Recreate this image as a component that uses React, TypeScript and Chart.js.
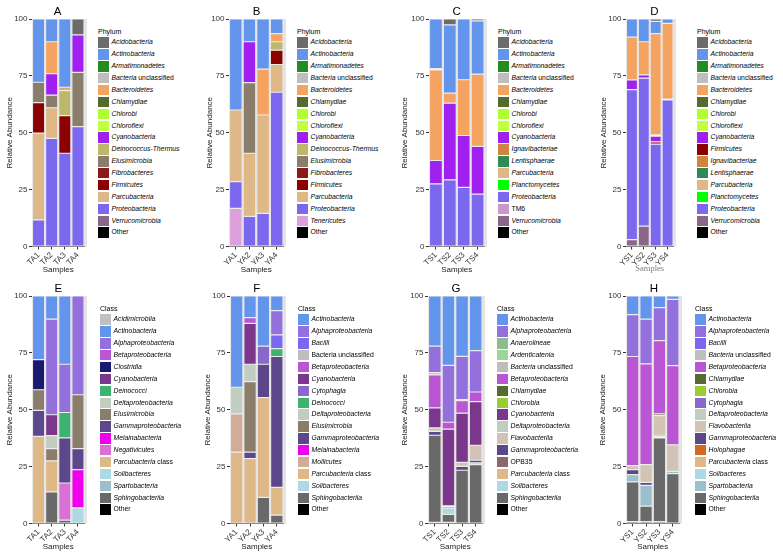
import React, { useEffect, useRef } from "react";
import { Chart, registerables } from "chart.js";

Chart.register(...registerables);
Chart.defaults.font.family = "'Liberation Sans', Arial, sans-serif";

// ---------------- Data ----------------
const samplesTA = ["TA1", "TA2", "TA3", "TA4"];
const samplesYA = ["YA1", "YA2", "YA3", "YA4"];
const samplesTS = ["TS1", "TS2", "TS3", "TS4"];
const samplesYS = ["YS1", "YS2", "YS3", "YS4"];

// Panel A (Phylum) – legend order
const taxaA = ["Acidobacteria", "Actinobacteria", "Armatimonadetes", "Bacteria unclassified", "Bacteroidetes", "Chlamydiae", "Chlorobi", "Chloroflexi", "Cyanobacteria", "Deinococcus-Thermus", "Elusimicrobia", "Fibrobacteres", "Firmicutes", "Parcubacteria", "Proteobacteria", "Verrucomicrobia", "Other"];
const valuesA = [
  [0, 0, 0, 7], [27.8, 10, 30, 0], [0, 0, 0, 0], [0, 0, 0, 0], [0, 14, 1.5, 0], [0, 0, 0, 0], [0, 0, 0, 0], [0, 0, 0, 0],
  [0, 9.5, 0, 16.5], [0, 0, 11, 0], [9, 5.5, 0, 23.8], [0, 0, 0, 0], [13.4, 0, 16.5, 0], [38.1, 13.5, 0, 0],
  [11.7, 47.5, 41, 52.7], [0, 0, 0, 0], [0, 0, 0, 0],
];

// Panel B (Phylum)
const taxaB = ["Acidobacteria", "Actinobacteria", "Armatimonadetes", "Bacteria unclassified", "Bacteroidetes", "Chlamydiae", "Chlorobi", "Chloroflexi", "Cyanobacteria", "Deinococcus-Thermus", "Elusimicrobia", "Fibrobacteres", "Firmicutes", "Parcubacteria", "Proteobacteria", "Tenericutes", "Other"];
const valuesB = [
  [0, 0, 0, 0], [40, 10, 22, 6.4], [0, 0, 0, 0], [0, 0, 0, 0], [0, 0, 20.2, 3.6], [0, 0, 0, 0], [0, 0, 0, 0], [0, 0, 0, 0],
  [0, 18, 0, 0], [0, 0, 0, 3.7], [0, 31, 0, 0], [0, 0, 0, 0], [0, 0, 0, 6.3], [31.5, 27.8, 43.2, 12.2],
  [11.7, 13.2, 14.6, 67.8], [16.8, 0, 0, 0], [0, 0, 0, 0],
];

// Panel C (Phylum)
const taxaC = ["Acidobacteria", "Actinobacteria", "Armatimonadetes", "Bacteria unclassified", "Bacteroidetes", "Chlamydiae", "Chlorobi", "Chloroflexi", "Cyanobacteria", "Ignavibacteriae", "Lentisphaerae", "Parcubacteria", "Planctomycetes", "Proteobacteria", "TM6", "Verrucomicrobia", "Other"];
const valuesC = [
  [0, 2.6, 0, 0.8], [21.8, 30, 26.7, 23.4], [0, 0, 0, 0], [0.6, 0, 0, 0], [39.8, 4.4, 24.5, 31.8], [0, 0, 0, 0], [0, 0, 0, 0], [0, 0, 0, 0],
  [10.3, 33.7, 22.8, 21], [0, 0, 0, 0], [0, 0, 0, 0], [0, 0, 0, 0], [0, 0, 0, 0], [27.5, 29.3, 26, 23],
  [0, 0, 0, 0], [0, 0, 0, 0], [0, 0, 0, 0],
];

// Panel D (Phylum)
const taxaD = ["Acidobacteria", "Actinobacteria", "Armatimonadetes", "Bacteria unclassified", "Bacteroidetes", "Chlamydiae", "Chlorobi", "Chloroflexi", "Cyanobacteria", "Firmicutes", "Ignavibacteriae", "Lentisphaerae", "Parcubacteria", "Planctomycetes", "Proteobacteria", "Verrucomicrobia", "Other"];
const valuesD = [
  [0, 0, 1, 0], [8, 10, 5.4, 1.9], [0, 0, 0, 0], [0, 0, 0, 0], [18.8, 14.6, 44.5, 33.3], [0, 0, 0, 0], [0, 0, 0, 0], [0, 0, 0.6, 0],
  [4.2, 1.4, 2.5, 0.4], [0, 0, 1, 0], [0, 0, 0, 0], [0, 0, 0, 0], [0, 0, 0, 0], [0, 0, 0, 0],
  [66, 65, 45, 64.4], [3, 9, 0, 0], [0, 0, 0, 0],
];

// Panel E (Class)
const taxaE = ["Acidimicrobiia", "Actinobacteria", "Alphaproteobacteria", "Betaproteobacteria", "Clostridia", "Cyanobacteria", "Deinococci", "Deltaproteobacteria", "Elusimicrobia", "Gammaproteobacteria", "Melainabacteria", "Negativicutes", "Parcubacteria class", "Solibacteres", "Spartobacteria", "Sphingobacteriia", "Other"];
const valuesE = [
  [0, 0, 0, 0], [28, 10.2, 30, 0], [0, 42, 21.2, 43.4], [0, 0, 0, 0], [13.2, 0, 0, 0], [0, 9.2, 0, 0], [0, 0, 11.2, 0],
  [0, 5.7, 0, 0], [9.1, 5.4, 0, 23.7], [11.4, 0, 19.8, 9.2], [0, 0, 0, 16.8], [0, 0, 16.3, 0], [38.3, 13.6, 0, 0],
  [0, 0, 0, 6.9], [0, 0, 0, 0], [0, 13.9, 1.5, 0], [0, 0, 0, 0],
];

// Panel F (Class)
const taxaF = ["Actinobacteria", "Alphaproteobacteria", "Bacilli", "Bacteria unclassified", "Betaproteobacteria", "Cyanobacteria", "Cytophagia", "Deinococci", "Deltaproteobacteria", "Elusimicrobia", "Gammaproteobacteria", "Melainabacteria", "Mollicutes", "Parcubacteria class", "Solibacteres", "Sphingobacteriia", "Other"];
const valuesF = [
  [40.1, 9.5, 22, 6.4], [0, 0, 0, 10.7], [0, 0, 0, 6], [0, 0, 0, 0], [0, 2.5, 0, 0], [0, 18, 0, 0], [0, 0, 8, 0],
  [0, 0, 0, 3.5], [11.7, 7.6, 0, 0], [0, 31, 0, 0], [0, 2.9, 14.7, 57.5], [0, 0, 0, 0], [16.8, 0, 0, 0],
  [31.4, 28.5, 43.8, 12.2], [0, 0, 0, 0], [0, 0, 11.5, 3.7], [0, 0, 0, 0],
];

// Panel G (Class)
const taxaG = ["Actinobacteria", "Alphaproteobacteria", "Anaerolineae", "Ardenticatenia", "Bacteria unclassified", "Betaproteobacteria", "Chlamydiae", "Chlorobia", "Cyanobacteria", "Deltaproteobacteria", "Flavobacteriia", "Gammaproteobacteria", "OPB35", "Parcubacteria class", "Solibacteres", "Sphingobacteriia", "Other"];
const valuesG = [
  [22, 30.5, 26.5, 24], [11.7, 25, 19, 18.2], [0, 0, 0, 0], [0, 0, 0, 0], [1, 0, 0.5, 0], [14.5, 3, 5.5, 4.2], [0, 0, 0, 0],
  [0, 0, 0, 0], [8.8, 33.7, 21.6, 19.2], [0, 0.5, 0, 0], [1.5, 0, 1.8, 6.6], [1.7, 0.6, 1.7, 1.1], [0, 0, 0, 0],
  [0, 0, 0, 0], [0, 2.7, 0, 0.8], [38.3, 3.5, 23.4, 25.9], [0.5, 0.5, 0, 0],
];

// Panel H (Class)
const taxaH = ["Actinobacteria", "Alphaproteobacteria", "Bacilli", "Bacteria unclassified", "Betaproteobacteria", "Chlamydiae", "Chlorobia", "Cytophagia", "Deltaproteobacteria", "Flavobacteriia", "Gammaproteobacteria", "Holophagae", "Parcubacteria class", "Solibacteres", "Spartobacteria", "Sphingobacteriia", "Other"];
const valuesH = [
  [8.2, 10.2, 5.1, 1.5], [18.4, 19.6, 14.5, 29.1], [0, 0, 0, 0], [0, 0, 0, 0], [48, 44.3, 32.2, 34.8], [0, 0, 0.8, 0],
  [0, 0, 0, 0], [0, 0, 0, 0], [0, 0, 0, 0], [1.7, 7.8, 8.6, 11.7], [2.2, 1.3, 0, 0], [0, 0, 0.6, 0], [0, 0, 0, 0],
  [0, 0, 0.6, 0], [3.2, 9.2, 0, 1], [17.5, 6.8, 36.8, 21.9], [0.8, 0.8, 0.8, 0],
];

// ---------------- Colours ----------------
const phylumColors: Record<string, string> = {
  Acidobacteria: "#6B6B6B",
  Actinobacteria: "#6495ED",
  Armatimonadetes: "#228B22",
  "Bacteria unclassified": "#BEBEBE",
  Bacteroidetes: "#F4A460",
  Chlamydiae: "#556B2F",
  Chlorobi: "#ADFF2F",
  Chloroflexi: "#C0FF3E",
  Cyanobacteria: "#A020F0",
  "Deinococcus-Thermus": "#BDB76B",
  Elusimicrobia: "#8B7D6B",
  Fibrobacteres: "#8B1A1A",
  Firmicutes: "#8B0000",
  Ignavibacteriae: "#CD853F",
  Lentisphaerae: "#2E8B57",
  Parcubacteria: "#DEB887",
  Planctomycetes: "#00FF00",
  Proteobacteria: "#7B68EE",
  Tenericutes: "#DDA0DD",
  TM6: "#CD96CD",
  Verrucomicrobia: "#8B668B",
  Other: "#000000",
};

const classColors: Record<string, string> = {
  Acidimicrobiia: "#C0C0C0",
  Actinobacteria: "#6495ED",
  Alphaproteobacteria: "#9370DB",
  Anaerolineae: "#8FBC8F",
  Ardenticatenia: "#9AD69A",
  Bacilli: "#7B68EE",
  "Bacteria unclassified": "#BEBEBE",
  Betaproteobacteria: "#BA55D3",
  Chlamydiae: "#556B2F",
  Chlorobia: "#9ACD32",
  Clostridia: "#191970",
  Cyanobacteria: "#7A378B",
  Cytophagia: "#8968CD",
  Deinococci: "#3CB371",
  Deltaproteobacteria: "#C1CDC1",
  Elusimicrobia: "#8B7D6B",
  Flavobacteriia: "#D2C3B4",
  Gammaproteobacteria: "#5D478B",
  Holophagae: "#D2691E",
  Melainabacteria: "#EE00EE",
  Mollicutes: "#D2AC96",
  Negativicutes: "#DA70D6",
  OPB35: "#8B6969",
  "Parcubacteria class": "#DEB887",
  Solibacteres: "#ADD8E6",
  Spartobacteria: "#9AC0CD",
  Sphingobacteriia: "#696969",
  Other: "#000000",
};

// ---------------- Layout ----------------
type Panel = {
  title: string;
  legendTitle: string;
  samples: string[];
  taxa: string[];
  values: number[][];
  colors: Record<string, string>;
  colX: number;
  rowY: number;
  plotLeft: number;
  plotRight: number;
  yTitleX: number;
  titleX: number;
  legendX: number;
  serifX?: boolean;
  uprightBacteria?: boolean;
};

const panels: Panel[] = [
  { title: "A", legendTitle: "Phylum", samples: samplesTA, taxa: taxaA, values: valuesA, colors: phylumColors, colX: 0, rowY: 0, plotLeft: 32, plotRight: 87, yTitleX: 9.3, titleX: 57.5, legendX: 98 },
  { title: "B", legendTitle: "Phylum", samples: samplesYA, taxa: taxaB, values: valuesB, colors: phylumColors, colX: 195, rowY: 0, plotLeft: 229, plotRight: 286, yTitleX: 210, titleX: 256.7, legendX: 297 },
  { title: "C", legendTitle: "Phylum", samples: samplesTS, taxa: taxaC, values: valuesC, colors: phylumColors, colX: 390, rowY: 0, plotLeft: 429, plotRight: 487, yTitleX: 405, titleX: 456.7, legendX: 498 },
  { title: "D", legendTitle: "Phylum", samples: samplesYS, taxa: taxaD, values: valuesD, colors: phylumColors, colX: 585, rowY: 0, plotLeft: 626, plotRight: 676, yTitleX: 604, titleX: 654.3, legendX: 697, serifX: true },
  { title: "E", legendTitle: "Class", samples: samplesTA, taxa: taxaE, values: valuesE, colors: classColors, colX: 0, rowY: 277, plotLeft: 32, plotRight: 87, yTitleX: 9.3, titleX: 58.3, legendX: 100 },
  { title: "F", legendTitle: "Class", samples: samplesYA, taxa: taxaF, values: valuesF, colors: classColors, colX: 195, rowY: 277, plotLeft: 230, plotRight: 286, yTitleX: 208, titleX: 256.7, legendX: 298, uprightBacteria: true },
  { title: "G", legendTitle: "Class", samples: samplesTS, taxa: taxaG, values: valuesG, colors: classColors, colX: 390, rowY: 277, plotLeft: 428, plotRight: 485, yTitleX: 405, titleX: 456, legendX: 497 },
  { title: "H", legendTitle: "Class", samples: samplesYS, taxa: taxaH, values: valuesH, colors: classColors, colX: 585, rowY: 277, plotLeft: 626, plotRight: 682, yTitleX: 603, titleX: 654, legendX: 695 },
];

const CANVAS_H = 278;
const PLOT_TOP = 19;
const PLOT_BOTTOM = 246.5;
const XTITLE_Y = 269.5;
const STRIP = 2.5;
const LEGEND_TITLE_Y = 31;
const LEGEND_FIRST_Y = 42.6;
const LEGEND_STEP = 11.88;
const AXIS_FONT = 8;
const HALF_LH = (AXIS_FONT * 1.2) / 2;

const panelBg = {
  id: "panelBg",
  beforeDatasetsDraw(chart: any) {
    const { ctx, chartArea: a } = chart;
    ctx.save();
    ctx.fillStyle = "#E4E4E4";
    ctx.fillRect(a.left, a.top, a.right - a.left + STRIP, a.bottom - a.top);
    ctx.restore();
  },
};

function LegendLabel({ name, upright }: { name: string; upright?: boolean }) {
  if (name === "Other" || name === "TM6" || name === "OPB35") return <span>{name}</span>;
  if (name === "Bacteria unclassified") {
    return upright ? <span>{name}</span> : <span><i>Bacteria</i> unclassified</span>;
  }
  if (name === "Parcubacteria class") {
    return <span><i>Parcubacteria</i> class</span>;
  }
  return <i>{name}</i>;
}

function PanelChart({ p }: { p: Panel }) {
  const ref = useRef<HTMLCanvasElement | null>(null);
  const canvasW = p.plotRight - p.colX + 2;

  useEffect(() => {
    if (!ref.current) return;
    const padL = p.yTitleX - p.colX - HALF_LH;
    const yW = p.plotLeft - p.colX - padL;
    const scaleBottom = XTITLE_Y + HALF_LH;
    const padB = CANVAS_H - scaleBottom;
    const xH = scaleBottom - PLOT_BOTTOM;
    const padR = canvasW - (p.plotRight - p.colX - STRIP);

    // stack order: ggplot puts the first legend entry on top
    const order = p.taxa.map((_, i) => i).reverse();
    const datasets = order.map((i) => ({
      label: p.taxa[i],
      data: p.values[i],
      backgroundColor: p.colors[p.taxa[i]],
      borderColor: "rgba(245,245,245,0.9)",
      borderWidth: 0.6,
      borderSkipped: false as any,
      barPercentage: 0.93,
      categoryPercentage: 1,
    }));

    const chart = new Chart(ref.current, {
      type: "bar",
      data: { labels: p.samples, datasets },
      options: {
        animation: false,
        responsive: false,
        maintainAspectRatio: false,
        layout: { padding: { left: padL, top: PLOT_TOP, right: padR, bottom: padB } },
        plugins: { legend: { display: false }, tooltip: { enabled: false }, title: { display: false } },
        scales: {
          x: {
            stacked: true,
            grid: { display: true, drawOnChartArea: false, drawTicks: true, tickLength: 3, color: "#333333", offset: false },
            border: { display: true, color: "#333333", width: 1 },
            ticks: { autoSkip: false, maxRotation: 45, minRotation: 45, padding: 1, color: "#333333", font: { size: AXIS_FONT } },
            title: {
              display: true,
              text: "Samples",
              padding: 0,
              color: p.serifX ? "#808080" : "#1a1a1a",
              font: p.serifX ? { size: 8.5, family: "'Liberation Serif', 'DejaVu Serif', serif" } : { size: AXIS_FONT },
            },
            afterFit: (s: any) => { s.height = xH; },
          },
          y: {
            stacked: true,
            min: 0,
            max: 100,
            grid: { display: true, drawOnChartArea: false, drawTicks: true, tickLength: 3, color: "#333333" },
            border: { display: true, color: "#333333", width: 1 },
            ticks: { stepSize: 25, padding: 1.5, color: "#333333", font: { size: AXIS_FONT } },
            title: { display: true, text: "Relative Abundance", padding: 0, color: "#1a1a1a", font: { size: AXIS_FONT } },
            afterFit: (s: any) => { s.width = yW; },
          },
        },
      },
      plugins: [panelBg],
    });
    return () => chart.destroy();
  }, []);

  return (
    <div style={{ position: "absolute", left: p.colX, top: p.rowY, width: 195, height: CANVAS_H }}>
      <canvas ref={ref} width={canvasW} height={CANVAS_H} style={{ position: "absolute", left: 0, top: 0 }} />
      <div
        style={{
          position: "absolute",
          left: p.titleX - p.colX - 15,
          width: 30,
          top: 4,
          fontSize: 11.5,
          lineHeight: "14px",
          textAlign: "center",
          color: "#000",
        }}
      >
        {p.title}
      </div>
      <div
        style={{
          position: "absolute",
          left: p.legendX - p.colX,
          top: LEGEND_TITLE_Y - 4.5,
          fontSize: 7,
          lineHeight: "9px",
          color: "#000",
          whiteSpace: "nowrap",
        }}
      >
        {p.legendTitle}
      </div>
      {p.taxa.map((t, i) => (
        <div
          key={t}
          style={{
            position: "absolute",
            left: p.legendX - p.colX,
            top: LEGEND_FIRST_Y + i * LEGEND_STEP - 5.2,
            height: 10.4,
            whiteSpace: "nowrap",
          }}
        >
          <div
            style={{
              position: "absolute",
              left: 0,
              top: 0,
              width: 10.8,
              height: 10.4,
              background: p.colors[t],
            }}
          />
          <div
            style={{
              position: "absolute",
              left: 13.5,
              top: 0,
              fontSize: 6.8,
              lineHeight: "10.4px",
              color: "#000",
            }}
          >
            <LegendLabel name={t} upright={p.uprightBacteria} />
          </div>
        </div>
      ))}
    </div>
  );
}

export default function App() {
  return (
    <div
      style={{
        position: "absolute",
        left: 0,
        top: 0,
        width: 783,
        height: 557,
        background: "#ffffff",
        fontFamily: "'Liberation Sans', Arial, sans-serif",
        overflow: "hidden",
      }}
    >
      {panels.map((p) => (
        <PanelChart key={p.title} p={p} />
      ))}
    </div>
  );
}
